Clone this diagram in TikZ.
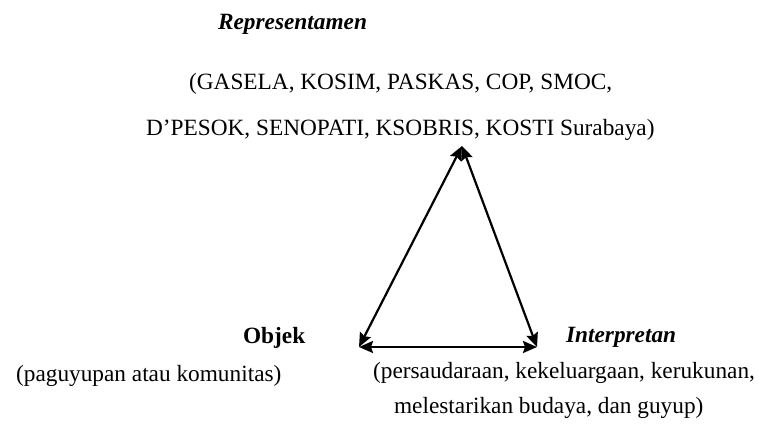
\documentclass[tikz,border=0pt]{standalone}
\usepackage{fontspec}
\setmainfont{Liberation Serif}
\usetikzlibrary{arrows.meta,positioning}

\begin{document}
\begin{tikzpicture}[x=1pt,y=-1pt,line width=2.2pt,
	>={Stealth[length=14pt,width=12pt,inset=2pt]},
	teks/.style={inner sep=0pt,anchor=base west,font=\fontsize{23.3}{28}\selectfont},
	judul/.style={teks,font=\fontsize{23.3}{28}\selectfont\bfseries}]
	\useasboundingbox (0,0) rectangle (759,430);
	% segitiga
	\coordinate (puncak) at (462,146);
	\coordinate (kiri) at (359,347);
	\coordinate (kanan) at (537,347);
	\draw[<->] (kiri) -- (puncak);
	\draw[<->] (kanan) -- (puncak);
	\draw[<->] (kiri) -- (kanan);
	% teks
	\node[judul] (rep) at (217,30) {\itshape Representamen};
	\node[teks] (repA) at (188,90) {(GASELA, KOSIM, PASKAS, COP, SMOC,};
	\node[teks] (repB) at (145,136) {D’PESOK, SENOPATI, KSOBRIS, KOSTI Surabaya)};
	\node[judul] (obj) at (242,343) {Objek};
	\node[teks] (objA) at (15,381) {(paguyupan atau komunitas)};
	\node[judul] (intp) at (565,342) {\itshape Interpretan};
	\node[teks] (intpA) at (372,378) {(persaudaraan, kekeluargaan, kerukunan,};
	\node[teks] (intpB) at (393,413) {melestarikan budaya, dan guyup)};
\end{tikzpicture}
\end{document}
